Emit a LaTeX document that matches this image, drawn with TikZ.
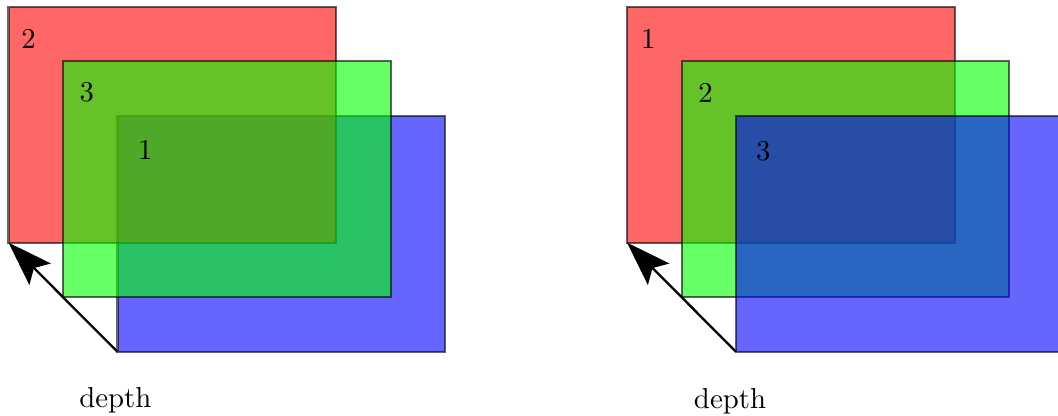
\documentclass[tikz,border=0pt]{standalone}
\usetikzlibrary{arrows.meta}
\begin{document}
\begin{tikzpicture}[x=0.3472pt,y=-0.3472pt,
  layer/.style={rectangle, draw=black, draw opacity=0.6, fill opacity=0.6,
    line width=0.7pt, minimum width=113.8pt, minimum height=81.9pt,
    inner sep=0pt, outer sep=0pt, anchor=north west},
  redlayer/.style={layer, fill=red},
  greenlayer/.style={layer, fill=green},
  bluelayer/.style={layer, fill=blue},
  lbl/.style={inner sep=0pt, font=\normalsize},
  deptharrow/.style={line width=0.8pt, -{Stealth[length=15.5pt,width=10.5pt,inset=3pt]}}]
\useasboundingbox (0,0) rectangle (1058,416);
% left: order 1 (blue), 2 (red), 3 (green)
\node[bluelayer]  (lb) at (117.5,115.8) {};
\node[redlayer]   (lr) at (8.5,6.7) {};
\node[greenlayer] (lg) at (63,61.2) {};
\node[lbl] (l2) at (28.5,39.3) {2};
\node[lbl] (l3) at (86.7,92.5) {3};
\node[lbl] (l1) at (145.3,150.2) {1};
\draw[deptharrow] (lb.south west) -- (lr.south west);
\node[lbl] (ld) at (115.3,400) {depth};
% right: order 1 (red), 2 (green), 3 (blue)
\node[redlayer]   (rr) at (627,6.7) {};
\node[greenlayer] (rg) at (681.5,61.2) {};
\node[bluelayer]  (rb) at (736,115.8) {};
\node[lbl] (r1) at (648.3,39.2) {1};
\node[lbl] (r2) at (705.5,92.5) {2};
\node[lbl] (r3) at (763.3,150.8) {3};
\draw[deptharrow] (rb.south west) -- (rr.south west);
\node[lbl] (rd) at (730,401.3) {depth};
\end{tikzpicture}
\end{document}
